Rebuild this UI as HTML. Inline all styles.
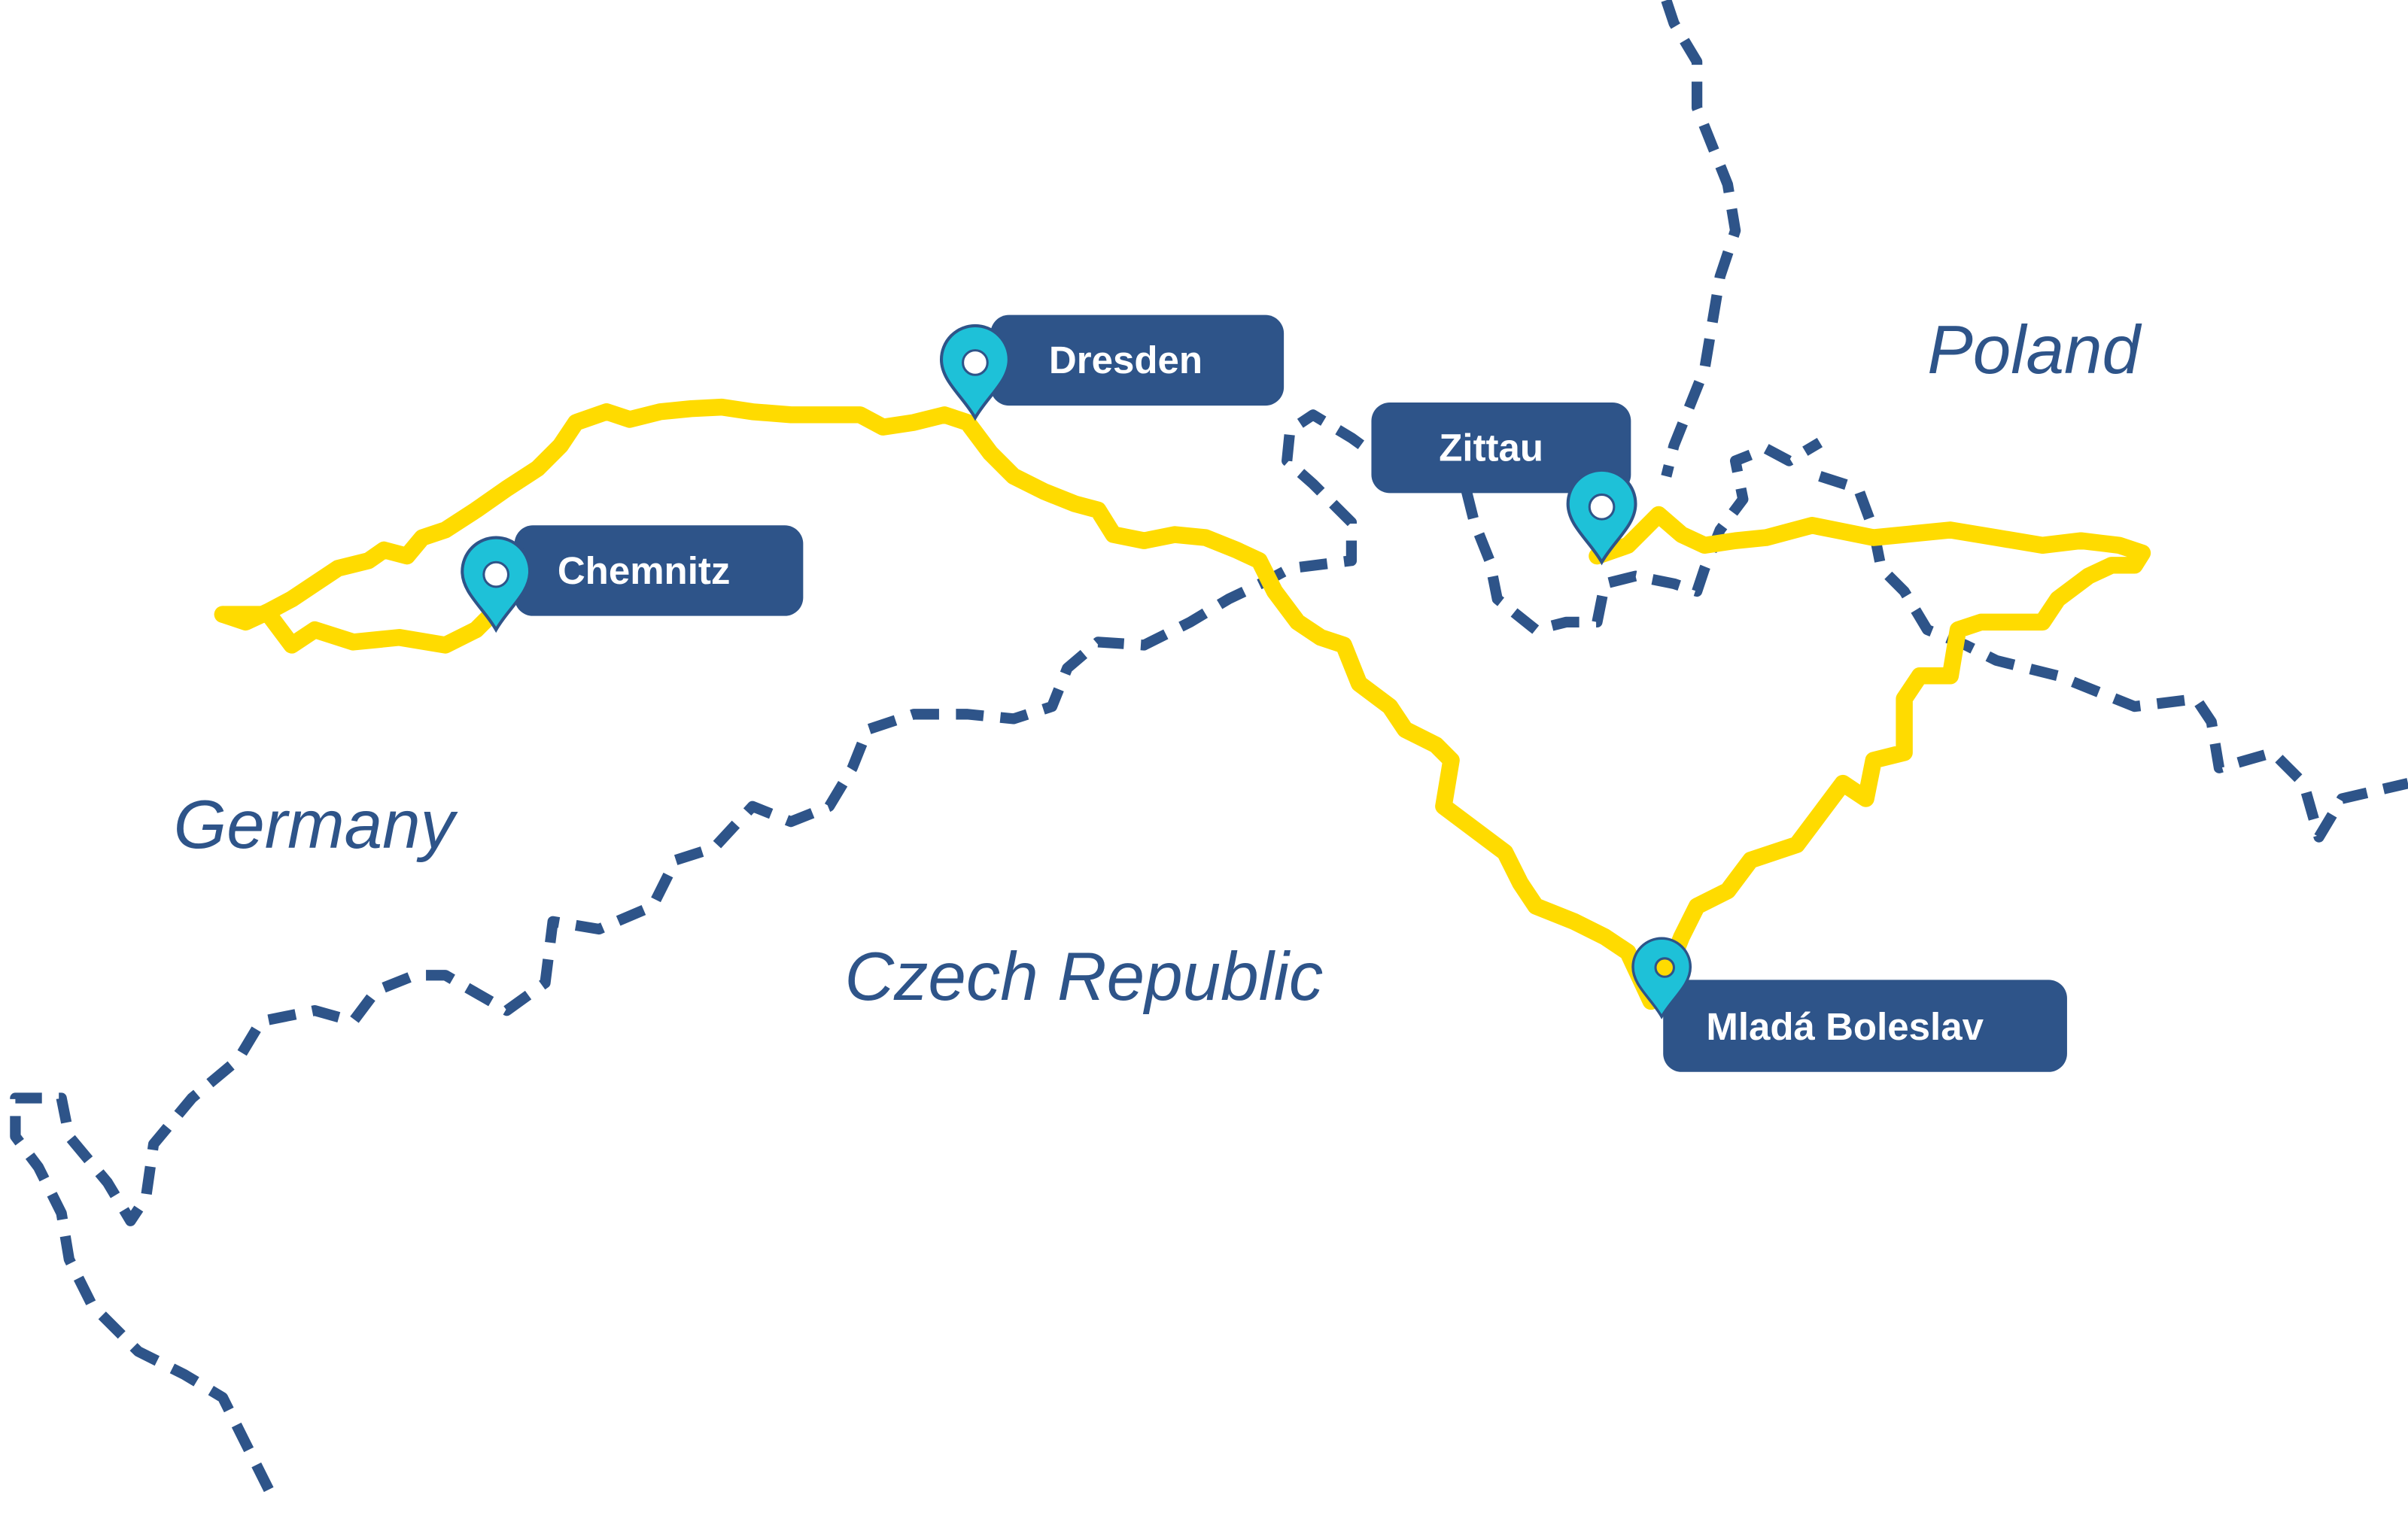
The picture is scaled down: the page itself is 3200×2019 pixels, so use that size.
<!DOCTYPE html>
<html><head><meta charset="utf-8"><style>
html,body{margin:0;padding:0;background:#fff;}
svg{display:block;}
</style></head><body>
<svg width="3200" height="2019" viewBox="0 0 1568 989" xmlns="http://www.w3.org/2000/svg">
<rect width="1568" height="989" fill="#fff"/>
<g fill="none" stroke="#2e5489" stroke-width="7" stroke-dasharray="18 11" stroke-linejoin="round">
<polyline points="175,970 160,940 145,910 120,895 90,880 60,850 45,820 40,790 25,760 10,740 10,715 40,715 45,740 70,770 85,795 95,780 100,745 125,715 155,690 170,665 205,658 230,665 245,645 270,635 290,635 330,658 355,640 360,600 390,605 425,590 440,560 465,552 490,525 515,535 540,525 555,500 565,475 595,465 630,465 660,468 685,460 695,435 715,418 745,420 775,405 800,390 825,378 840,370 880,365 880,340 870,330 855,315 838,300 840,280 855,270 880,285 898,298"/>
<polyline points="955,320 960,340 970,365 975,390 1000,410 1020,405 1040,405 1045,380 1065,375 1090,380 1105,385 1110,370 1120,345 1135,325 1130,300 1150,292 1165,300 1185,288"/>
<polyline points="1085,0 1090,15 1105,40 1105,70 1115,95 1125,120 1130,150 1120,180 1115,210 1110,240 1100,265 1090,290 1085,310"/>
<polyline points="1185,310 1210,318 1220,345 1225,370 1240,385 1255,410 1280,420 1300,430 1340,440 1390,460 1430,455 1440,470 1445,500 1480,490 1500,510 1510,545 1525,520 1568,510"/>
</g>
<g fill="none" stroke="#ffdb00" stroke-width="11" stroke-linejoin="round" stroke-linecap="round">
<polyline points="145,400 160,405 175,398 190,390 205,380 220,370 240,365 250,358 265,362 275,350 290,345 310,332 330,318 350,305 365,290 375,275 395,268 410,273 430,268 450,266 470,265 490,268 515,270 540,270 560,270 575,278 595,275 615,270 630,275 645,295 660,310 680,320 700,328 715,332 725,348 745,352 765,348 785,350 805,358 820,365 830,385 845,405 860,415 875,420 885,445 905,460 915,475 935,485 945,495 940,525 960,540 980,555 990,575 1000,590 1025,600 1045,610 1060,620 1075,652 1085,635 1095,610 1105,590 1125,580 1140,560 1170,550 1185,530 1200,510 1215,520 1220,495 1240,490 1240,455 1250,440 1270,440 1275,410 1290,405 1330,405 1340,390 1360,375 1375,368 1390,368 1395,360 1380,355 1355,352 1330,355 1300,350 1270,345 1240,348 1220,350 1195,345 1180,342 1150,350 1130,352 1110,355 1095,348 1080,335 1070,345 1060,355 1040,362"/>
<polyline points="145,400 175,400 190,420 205,410 230,418 260,415 290,420 310,410 320,400"/>
</g>
<g fill="#2e5489">
<rect x="645" y="205" width="191" height="59" rx="12"/>
<rect x="893" y="262" width="169" height="59" rx="12"/>
<rect x="335" y="342" width="188" height="59" rx="12"/>
<rect x="1083" y="638" width="263" height="60" rx="12"/>
</g>
<g fill="#fff" font-family="Liberation Sans, sans-serif" font-weight="bold" font-size="25">
<text x="683" y="243">Dresden</text>
<text x="937" y="300">Zittau</text>
<text x="363" y="380">Chemnitz</text>
<text x="1111" y="677">Mladá Boleslav</text>
</g>
<g fill="#2e5489" font-family="Liberation Sans, sans-serif" font-style="italic" font-size="44.5">
<text x="1255" y="243">Poland</text>
<text x="113" y="552">Germany</text>
<text x="550" y="651">Czech Republic</text>
</g>
<defs>
<path id="pin" d="M0,0 C-8,-14 -22,-24 -22,-38 A22,22 0 1 1 22,-38 C22,-24 8,-14 0,0 Z"/>
</defs>
<g fill="#1ec1d8" stroke="#2e5489" stroke-width="2">
<use href="#pin" x="635" y="272"/>
<use href="#pin" x="1043" y="366"/>
<use href="#pin" x="323" y="410"/>
<use href="#pin" x="1082" y="662" transform="translate(1082 662) scale(0.85) translate(-1082 -662)"/>
</g>
<g fill="#fff" stroke="#2e5489" stroke-width="1.5">
<circle cx="635" cy="236" r="8"/>
<circle cx="1043" cy="330" r="8"/>
<circle cx="323" cy="374" r="8"/>
</g>
<circle cx="1084" cy="630" r="6" fill="#ffdb00" stroke="#2e5489" stroke-width="1.5"/>
</svg>
</body></html>
